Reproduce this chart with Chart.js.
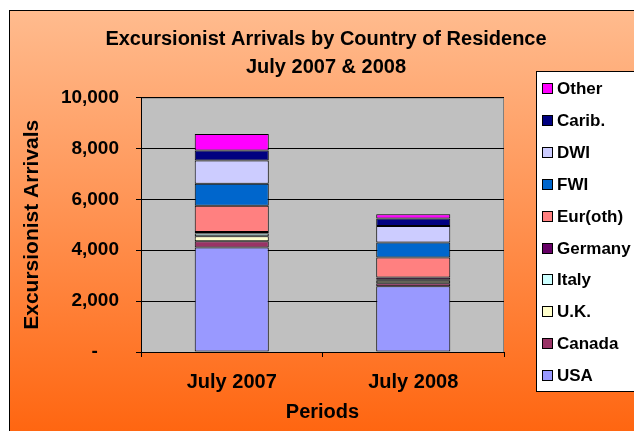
<!DOCTYPE html>
<html>
<head>
<meta charset="utf-8">
<script src="https://cdn.jsdelivr.net/npm/chart.js@4"></script>
<style>
    html, body { margin: 0; padding: 0; background: #fff; }
</style>
</head>
<body>
<canvas id="arrivals-chart" width="634" height="431"></canvas>
<script>
// data
const periods = ["July 2007", "July 2008"];
const usa = [4106, 2588];
const canada = [245, 110];
const uk = [195, 100];
const italy = [115, 40];
const germany = [50, 90];
const eurOther = [1035, 785];
const fwi = [863, 588];
const dwi = [913, 651];
const carib = [393, 290];
const other = [654, 169];
const yTicks = [0, 2000, 4000, 6000, 8000, 10000];

const FONT = "'Liberation Sans', Arial, Helvetica, sans-serif";

const series = [
    { label: "USA", data: usa, color: "#9999FF" },
    { label: "Canada", data: canada, color: "#993366" },
    { label: "U.K.", data: uk, color: "#FFFFCC" },
    { label: "Italy", data: italy, color: "#CCFFFF" },
    { label: "Germany", data: germany, color: "#660066" },
    { label: "Eur(oth)", data: eurOther, color: "#FF8080" },
    { label: "FWI", data: fwi, color: "#0066CC" },
    { label: "DWI", data: dwi, color: "#CCCCFF" },
    { label: "Carib.", data: carib, color: "#000080" },
    { label: "Other", data: other, color: "#FF00FF" },
];

// orange frame + grey plot area
const backdrop = {
    id: "backdrop",
    beforeDraw(chart) {
        const { ctx, width, height, chartArea: a } = chart;
        ctx.save();
        ctx.fillStyle = "#fff";
        ctx.fillRect(0, 0, width, height);
        const g = ctx.createLinearGradient(0, 11, 0, height);
        g.addColorStop(0, "rgb(255,187,142)");
        g.addColorStop(0.5, "rgb(255,145,80)");
        g.addColorStop(1, "rgb(255,102,17)");
        ctx.fillStyle = g;
        ctx.fillRect(9, 11, width, height);
        ctx.strokeStyle = "#000";
        ctx.lineWidth = 1;
        ctx.strokeRect(9.5, 10.5, width, height);
        ctx.fillStyle = "#C0C0C0";
        ctx.fillRect(a.left, a.top, a.right - a.left, a.bottom - a.top);
        ctx.strokeStyle = "#808080";
        ctx.strokeRect(a.left + 0.5, a.top + 0.5, a.right - a.left - 1, a.bottom - a.top);
        ctx.restore();
    },
};

// legend box on the right, top item = last dataset
const boxLegend = {
    id: "boxLegend",
    afterDraw(chart) {
        const { ctx } = chart;
        const sets = chart.data.datasets.slice().reverse();
        ctx.save();
        ctx.fillStyle = "#fff";
        ctx.fillRect(536, 71, 200, 320);
        ctx.strokeStyle = "#000";
        ctx.lineWidth = 1;
        ctx.strokeRect(536.5, 71.5, 200, 320);
        ctx.font = "bold 17px " + FONT;
        ctx.textBaseline = "middle";
        sets.forEach((ds, i) => {
            const cy = Math.round(88 + i * 31.9);
            ctx.fillStyle = ds.backgroundColor;
            ctx.fillRect(542, cy - 5, 10, 10);
            ctx.strokeStyle = "#000";
            ctx.strokeRect(542.5, cy - 4.5, 10, 10);
            ctx.fillStyle = "#000";
            ctx.fillText(ds.label, 557, cy + 1);
        });
        ctx.restore();
    },
};

const ctx = document.getElementById("arrivals-chart").getContext("2d");
const myChart = new Chart(ctx, {
    type: "bar",
    data: {
        labels: periods,
        datasets: series.map((s) => ({
            label: s.label,
            data: s.data,
            backgroundColor: s.color,
            borderColor: "#000",
            borderWidth: 1,
            borderSkipped: false,
            categoryPercentage: 1,
            barPercentage: 0.408,
        })),
    },
    options: {
        responsive: false,
        animation: false,
        layout: { padding: { left: 18, right: 0, top: 0, bottom: 0 } },
        plugins: {
            legend: { display: false },
            tooltip: { enabled: false },
            title: {
                display: true,
                text: ["Excursionist Arrivals by Country of Residence", "July 2007 & 2008"],
                color: "#000",
                font: { family: FONT, size: 20, weight: "bold", lineHeight: 1.4 },
                padding: { top: 25, bottom: 16.5 },
            },
        },
        scales: {
            x: {
                stacked: true,
                grid: {
                    drawOnChartArea: false,
                    drawTicks: true,
                    tickLength: 5,
                    color: "#000",
                    offset: true,
                },
                border: { color: "#000" },
                ticks: {
                    color: "#000",
                    maxRotation: 0,
                    padding: 13,
                    font: { family: FONT, size: 20, weight: "bold" },
                },
                title: {
                    display: true,
                    text: "Periods",
                    color: "#000",
                    font: { family: FONT, size: 20, weight: "bold" },
                    padding: { top: 0, bottom: 7 },
                },
                afterFit: (s) => {
                    s.height = 79;
                },
            },
            y: {
                stacked: true,
                min: 0,
                max: 10000,
                afterBuildTicks: (s) => {
                    s.ticks = yTicks.map((v) => ({ value: v }));
                },
                ticks: {
                    color: "#000",
                    padding: 17,
                    font: { family: FONT, size: 19, weight: "bold" },
                    callback: (v) => (v === 0 ? "-    " : v.toLocaleString("en-US")),
                },
                grid: { color: "#000", tickLength: 5 },
                border: { color: "#000" },
                title: {
                    display: true,
                    text: "Excursionist Arrivals",
                    color: "#000",
                    font: { family: FONT, size: 21, weight: "bold" },
                    padding: { top: 2, bottom: 0 },
                },
                afterFit: (s) => {
                    s.width = 123;
                },
            },
            // empty axis that keeps room for the legend box
            yRight: {
                axis: "y",
                position: "right",
                grid: { display: false },
                ticks: { display: false },
                border: { display: false },
                afterFit: (s) => {
                    s.width = 130;
                },
            },
        },
    },
    plugins: [backdrop, boxLegend],
});
</script>
</body>
</html>
